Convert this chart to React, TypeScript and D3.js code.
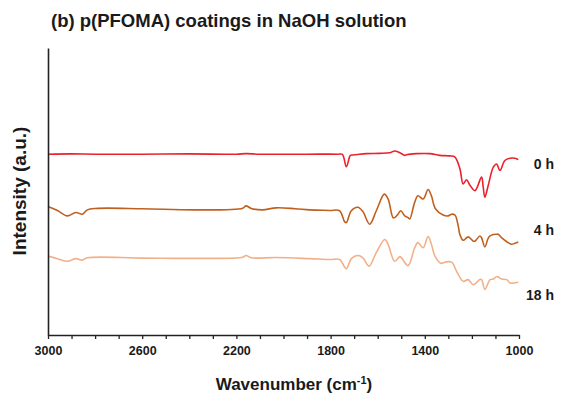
import React, { useEffect, useRef } from "react";
import * as d3 from "d3";

const W = 564;
const H = 394;

const title = "(b) p(PFOMA) coatings in NaOH solution";
const xLabel = "Wavenumber (cm";
const yLabel = "Intensity (a.u.)";
const xTicks = d3.range(1000, 3001, 100);
const xTickLabels = [3000, 2600, 2200, 1800, 1400, 1000];

const seriesNames = ["0 h", "4 h", "18 h"];
const seriesColors = ["#e8232c", "#c0601f", "#f2b088"];
// label vertical position, in intensity units
const labelLevels = [57.7, 34.9, 12.1];

// wavenumber (cm-1), intensity (a.u.)
const wn0 = [3000, 2900, 2800, 2600, 2400, 2200, 2160, 2100, 1900, 1770, 1750, 1733, 1716, 1706, 1677, 1648, 1592, 1549, 1528, 1506, 1485, 1478, 1451, 1435, 1379, 1336, 1294, 1272, 1251, 1237, 1223, 1209, 1187, 1159, 1152, 1145, 1131, 1109, 1095, 1081, 1060, 1038, 1017, 1003];
const int0 = [63.0, 63.1, 63.0, 63.0, 63.1, 63.0, 63.2, 63.0, 63.0, 63.0, 62.9, 58.6, 62.6, 62.7, 63.0, 63.2, 63.3, 63.5, 64.1, 63.5, 62.6, 62.8, 63.1, 63.2, 63.2, 62.6, 62.4, 62.0, 57.9, 52.6, 54.1, 52.3, 50.3, 55.0, 51.5, 48.0, 52.0, 58.5, 59.6, 57.3, 60.8, 61.6, 61.6, 61.1];

const wn4 = [3000, 2960, 2918, 2882, 2854, 2833, 2797, 2600, 2372, 2173, 2159, 2137, 2089, 2031, 1950, 1889, 1804, 1762, 1740, 1733, 1712, 1684, 1663, 1634, 1606, 1572, 1556, 1535, 1528, 1514, 1502, 1485, 1471, 1464, 1443, 1429, 1407, 1386, 1372, 1355, 1322, 1301, 1286, 1272, 1258, 1251, 1237, 1216, 1194, 1187, 1166, 1159, 1145, 1131, 1123, 1109, 1095, 1088, 1074, 1052, 1046, 1031, 1017, 1003];
const int4 = [44.8, 43.4, 41.5, 42.7, 42.1, 43.6, 44.1, 44.0, 43.6, 44.2, 45.0, 44.1, 43.6, 44.3, 44.0, 43.6, 43.4, 43.3, 39.4, 39.2, 43.3, 44.5, 43.0, 38.6, 43.3, 49.1, 47.4, 40.9, 40.9, 42.1, 43.3, 41.5, 40.9, 40.4, 46.2, 48.5, 47.4, 50.7, 48.5, 44.0, 41.8, 41.5, 42.1, 41.8, 38.0, 35.0, 33.0, 34.2, 32.7, 32.7, 34.5, 33.9, 30.7, 33.7, 34.5, 35.0, 35.1, 35.1, 33.9, 32.5, 32.2, 31.6, 32.0, 32.4];

const wn18 = [3000, 2960, 2918, 2882, 2854, 2833, 2600, 2372, 2173, 2159, 2137, 2031, 1889, 1804, 1762, 1733, 1712, 1684, 1663, 1637, 1606, 1570, 1556, 1528, 1506, 1499, 1471, 1443, 1429, 1407, 1386, 1372, 1357, 1329, 1322, 1286, 1265, 1237, 1216, 1194, 1166, 1159, 1145, 1123, 1109, 1095, 1088, 1074, 1052, 1038, 1024, 1003];
const int18 = [27.5, 26.6, 25.7, 26.6, 26.1, 26.9, 26.8, 26.7, 27.1, 27.7, 26.9, 27.0, 26.6, 26.3, 26.3, 23.1, 26.6, 27.7, 26.9, 24.0, 28.7, 33.3, 31.6, 25.7, 27.3, 26.9, 24.2, 30.4, 32.2, 30.4, 34.3, 31.6, 27.5, 24.9, 25.2, 25.4, 22.2, 18.7, 19.3, 17.5, 19.3, 19.3, 15.9, 19.3, 19.5, 20.4, 20.2, 19.5, 19.3, 18.1, 18.1, 18.4];

const seriesWn = [wn0, wn4, wn18];
const seriesInt = [int0, int4, int18];

const M = { left: 48, right: 519, top: 48, bottom: 335 };
const FONT = "Liberation Sans, Arial, sans-serif";

export default function App() {
  const ref = useRef<SVGSVGElement>(null);

  useEffect(() => {
    const svg = d3.select(ref.current);
    svg.selectAll("*").remove();

    const x = d3.scaleLinear().domain([3000, 1000]).range([M.left, M.right]);
    const y = d3.scaleLinear().domain([0, 100]).range([M.bottom, M.top]);

    // title
    svg.append("text")
      .attr("x", 51).attr("y", 27)
      .attr("font-family", FONT)
      .attr("font-weight", "bold").attr("font-size", 18.5)
      .attr("fill", "#1a1a1a")
      .text(title);

    // lines
    const line = d3.line<[number, number]>()
      .x((d) => x(d[0]))
      .y((d) => y(d[1]))
      .curve(d3.curveCatmullRom.alpha(0.5));

    seriesWn.forEach((wns, i) => {
      const pts: [number, number][] = wns.map((w, j) => [w, seriesInt[i][j]]);
      svg.append("path")
        .attr("d", line(pts) as string)
        .attr("fill", "none")
        .attr("stroke", seriesColors[i])
        .attr("stroke-width", 1.6)
        .attr("stroke-linejoin", "round");
      svg.append("text")
        .attr("x", 554)
        .attr("y", y(labelLevels[i]))
        .attr("text-anchor", "end")
        .attr("font-family", FONT)
        .attr("font-weight", "bold").attr("font-size", 14)
        .attr("fill", "#1a1a1a")
        .text(seriesNames[i]);
    });

    // x axis
    const xAxis = d3.axisBottom(x)
      .tickValues(xTicks)
      .tickSize(4)
      .tickSizeOuter(0)
      .tickPadding(7)
      .tickFormat((d) => (xTickLabels.includes(d as number) ? String(d) : ""));
    const gx = svg.append("g").attr("transform", `translate(0,${M.bottom})`).call(xAxis);
    gx.select(".domain").attr("stroke", "#222").attr("stroke-width", 1.6);
    gx.selectAll(".tick line").attr("stroke", "#222").attr("stroke-width", 1.3);
    gx.selectAll(".tick text")
      .attr("font-family", FONT)
      .attr("font-weight", "bold").attr("font-size", 12.5)
      .attr("fill", "#1a1a1a");

    // y axis
    const yAxis = d3.axisLeft(y).tickValues([]).tickSizeOuter(0);
    const gy = svg.append("g").attr("transform", `translate(${M.left},0)`).call(yAxis);
    gy.select(".domain").attr("stroke", "#222").attr("stroke-width", 1.6);

    // x label
    const xl = svg.append("text")
      .attr("x", 294).attr("y", 390)
      .attr("text-anchor", "middle")
      .attr("font-family", FONT)
      .attr("font-weight", "bold")
      .attr("font-size", 17)
      .attr("fill", "#1a1a1a");
    xl.append("tspan").text(xLabel);
    xl.append("tspan").attr("dy", -6).attr("font-size", 11).text("-1");
    xl.append("tspan").attr("dy", 6).text(")");

    // y label
    svg.append("text")
      .attr("transform", `translate(26,191) rotate(-90)`)
      .attr("text-anchor", "middle")
      .attr("font-family", FONT)
      .attr("font-weight", "bold")
      .attr("font-size", 19)
      .attr("fill", "#1a1a1a")
      .text(yLabel);
  }, []);

  return (
    <svg
      ref={ref}
      width={W}
      height={H}
      style={{ position: "absolute", left: 0, top: 0, background: "#fff" }}
    />
  );
}
